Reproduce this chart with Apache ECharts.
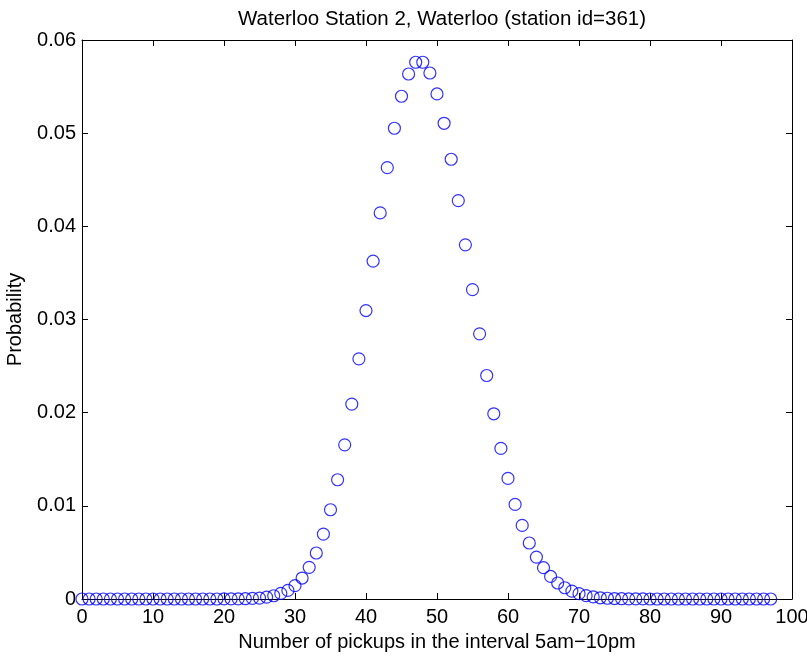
<!DOCTYPE html>
<html>
<head>
<meta charset="utf-8">
<script src="https://cdn.jsdelivr.net/npm/echarts@6/dist/echarts.min.js"></script>
<style>
html,body{margin:0;padding:0;background:#fff;}
#chart{width:807px;height:656px;}
</style>
</head>
<body>
<div id="chart"></div>
<script>
// Number of pickups (x) and probability (y)
var pickups = [];
for (var i = 0; i <= 97; i++) pickups.push(i);
var probability = [
  0, 0, 0, 0, 0, 0, 0, 0, 0, 0,
  0, 0, 0, 0, 0, 0, 0, 0, 0, 0,
  0.00001, 0.00001, 0.00002, 0.00003, 0.00006, 0.0001, 0.0002, 0.00035, 0.0006, 0.00092,
  0.00143, 0.00225, 0.0034, 0.00494, 0.00697, 0.00958, 0.0128, 0.01655, 0.02092, 0.02578,
  0.03096, 0.03626, 0.04144, 0.0463, 0.05053, 0.05396, 0.05635, 0.05761, 0.05761, 0.05646,
  0.05421, 0.05106, 0.0472, 0.04276, 0.03801, 0.03321, 0.02846, 0.02399, 0.01988, 0.01616,
  0.01294, 0.01015, 0.0079, 0.00601, 0.0045, 0.00336, 0.00242, 0.00172, 0.00121, 0.00085,
  0.00057, 0.00036, 0.00022, 0.00013, 0.00008, 0.00005, 0.00003, 0.00002, 0.00001, 0.00001,
  0, 0, 0, 0, 0, 0, 0, 0, 0, 0,
  0, 0, 0, 0, 0, 0, 0, 0
];
var titleText = 'Waterloo Station 2, Waterloo (station id=361)';
var xName = 'Number of pickups in the interval 5am\u221210pm';
var yName = 'Probability';

var pts = pickups.map(function (x, k) { return [x, probability[k]]; });
var FONT = 'Liberation Sans, Arial, Helvetica, sans-serif';
var FS = 20;

var chart = echarts.init(document.getElementById('chart'), null, {renderer: 'canvas'});
var hiddenAxisCommon = {
  axisLine: {show: true, onZero: false, lineStyle: {color: '#000', width: 1}},
  axisTick: {show: true, inside: true, length: 6, lineStyle: {color: '#000'}},
  axisLabel: {show: false},
  splitLine: {show: false}
};
chart.setOption({
  animation: false,
  backgroundColor: '#fff',
  title: {
    text: titleText,
    left: 437,
    textAlign: 'center',
    top: 4,
    textStyle: {fontFamily: FONT, fontSize: 20.5, fontWeight: 'normal', color: '#000'}
  },
  grid: {left: 82, right: 15, top: 40, bottom: 57, containLabel: false, outerBoundsMode: 'none'},
  xAxis: [
    {
      type: 'value', min: 0, max: 100, interval: 10,
      name: xName, nameLocation: 'middle', nameGap: 33,
      nameTextStyle: {fontFamily: FONT, fontSize: FS, color: '#000'},
      axisLine: {show: true, onZero: false, lineStyle: {color: '#000', width: 1}},
      axisTick: {show: true, inside: true, length: 6, lineStyle: {color: '#000'}},
      axisLabel: {fontFamily: FONT, fontSize: FS, color: '#000', margin: 8},
      splitLine: {show: false}
    },
    Object.assign({type: 'value', min: 0, max: 100, interval: 10, position: 'top'}, hiddenAxisCommon)
  ],
  yAxis: [
    {
      type: 'value', min: 0, max: 0.06, interval: 0.01,
      name: yName, nameLocation: 'middle', nameGap: 57, nameRotate: 90,
      nameTextStyle: {fontFamily: FONT, fontSize: FS, color: '#000'},
      axisLine: {show: true, onZero: false, lineStyle: {color: '#000', width: 1}},
      axisTick: {show: true, inside: true, length: 6, lineStyle: {color: '#000'}},
      axisLabel: {
        fontFamily: FONT, fontSize: FS, color: '#000', margin: 6,
        formatter: function (v) { return v === 0 ? '0' : v.toFixed(2); }
      },
      splitLine: {show: false}
    },
    Object.assign({type: 'value', min: 0, max: 0.06, interval: 0.01, position: 'right'}, hiddenAxisCommon)
  ],
  series: [{
    type: 'scatter',
    data: pts,
    symbol: 'circle',
    symbolSize: 12,
    clip: false,
    itemStyle: {color: 'rgba(0,0,0,0)', borderColor: '#0000ff', borderWidth: 1.2},
    emphasis: {disabled: true}
  }]
});
</script>
</body>
</html>
